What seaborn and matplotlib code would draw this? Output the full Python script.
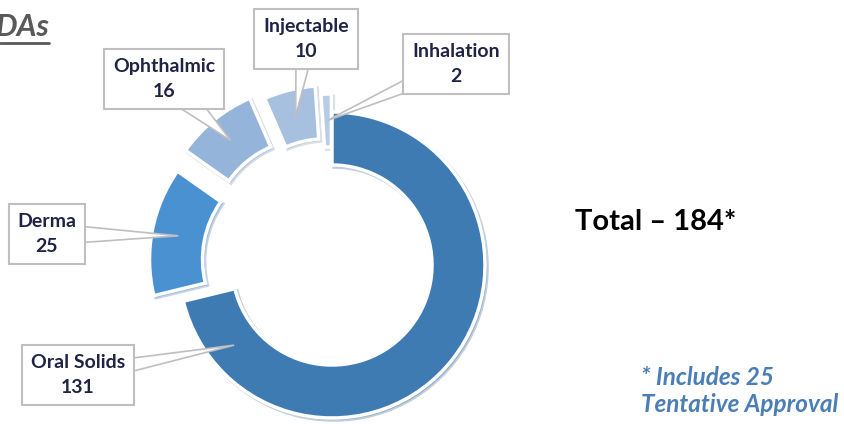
import matplotlib
matplotlib.use("Agg")
import matplotlib.pyplot as plt
from matplotlib.patches import Polygon
import numpy as np
import seaborn as sns

# Data
categories = ["Oral Solids", "Derma", "Ophthalmic", "Injectable", "Inhalation"]
counts = [131, 25, 16, 10, 2]
title = "DAs"
total_label = "Total – 184*"
footnote = "* Includes 25\nTentative Approval"

# Styling / layout
colors = ["#3E7BB3", "#4A91D2", "#95B4D9", "#A8C0DF", "#B7CCE6"]
explode = [0, 30, 34, 27, 18]
# label box centers (pixel coords from top-left), pointer position in wedge, pointer half width
label_pos = [(78, 375), (47, 234), (164, 79), (306, 39), (456, 64)]
tip_frac = [0.10, 0.5, 0.5, 0.5, 0.5]
half_w = [10, 11, 16, 10, 10]

sns.set_theme(style="white")
plt.rcParams["font.family"] = ["Lato", "DejaVu Sans"]

W, H = 845, 424
fig = plt.figure(figsize=(W / 100, H / 100), dpi=100)
ax = fig.add_axes([0, 0, 1, 1])

center = (332, H - 265)
R = 153
ring = 53
wedges, _ = ax.pie(
    counts,
    colors=colors,
    explode=explode,
    startangle=90,
    counterclock=False,
    radius=R,
    center=center,
    wedgeprops=dict(width=ring, edgecolor="white", linewidth=2.5),
    shadow=dict(ox=1.5, oy=-1.5, shade=0.2, alpha=0.3),
)
ax.set_xlim(0, W)
ax.set_ylim(0, H)
ax.set_aspect("equal")
ax.axis("off")

# callout boxes with pointers
for w, cat, cnt, (px, py), f, hw in zip(wedges, categories, counts, label_pos, tip_frac, half_w):
    bx, by = px, H - py
    ang = np.deg2rad(w.theta1 + f * (w.theta2 - w.theta1))
    rr = w.r - w.width / 2
    tx = w.center[0] + rr * np.cos(ang)
    ty = w.center[1] + rr * np.sin(ang)
    d = np.array([tx - bx, ty - by])
    d = d / np.linalg.norm(d)
    perp = np.array([-d[1], d[0]]) * hw
    poly = Polygon([(bx + perp[0], by + perp[1]), (tx, ty), (bx - perp[0], by - perp[1])],
                   closed=True, fc="white", ec="#BFBFBF", lw=1.2, zorder=3)
    ax.add_patch(poly)
    ax.text(bx, by, f"{cat}\n{cnt}", ha="center", va="center", fontsize=14,
            fontweight="bold", color="#1F2445", linespacing=1.55, zorder=5,
            bbox=dict(boxstyle="square,pad=0.45", fc="white", ec="#BFBFBF", lw=1.5))

# title fragment with underline
ax.text(-4, H - 27, title, fontsize=22, fontweight="bold", fontstyle="italic",
        color="#595959", va="center", ha="left")
ax.plot([0, 49], [H - 43, H - 43], color="#595959", lw=2)

ax.text(575, H - 222, total_label, fontsize=21, fontweight="bold", color="black",
        va="center", ha="left")
ax.text(641, H - 391, footnote, fontsize=17.5, fontweight="bold", fontstyle="italic",
        color="#4A7EB5", va="center", ha="left", linespacing=1.2)

fig.savefig("out.png", dpi=100, facecolor="white")
